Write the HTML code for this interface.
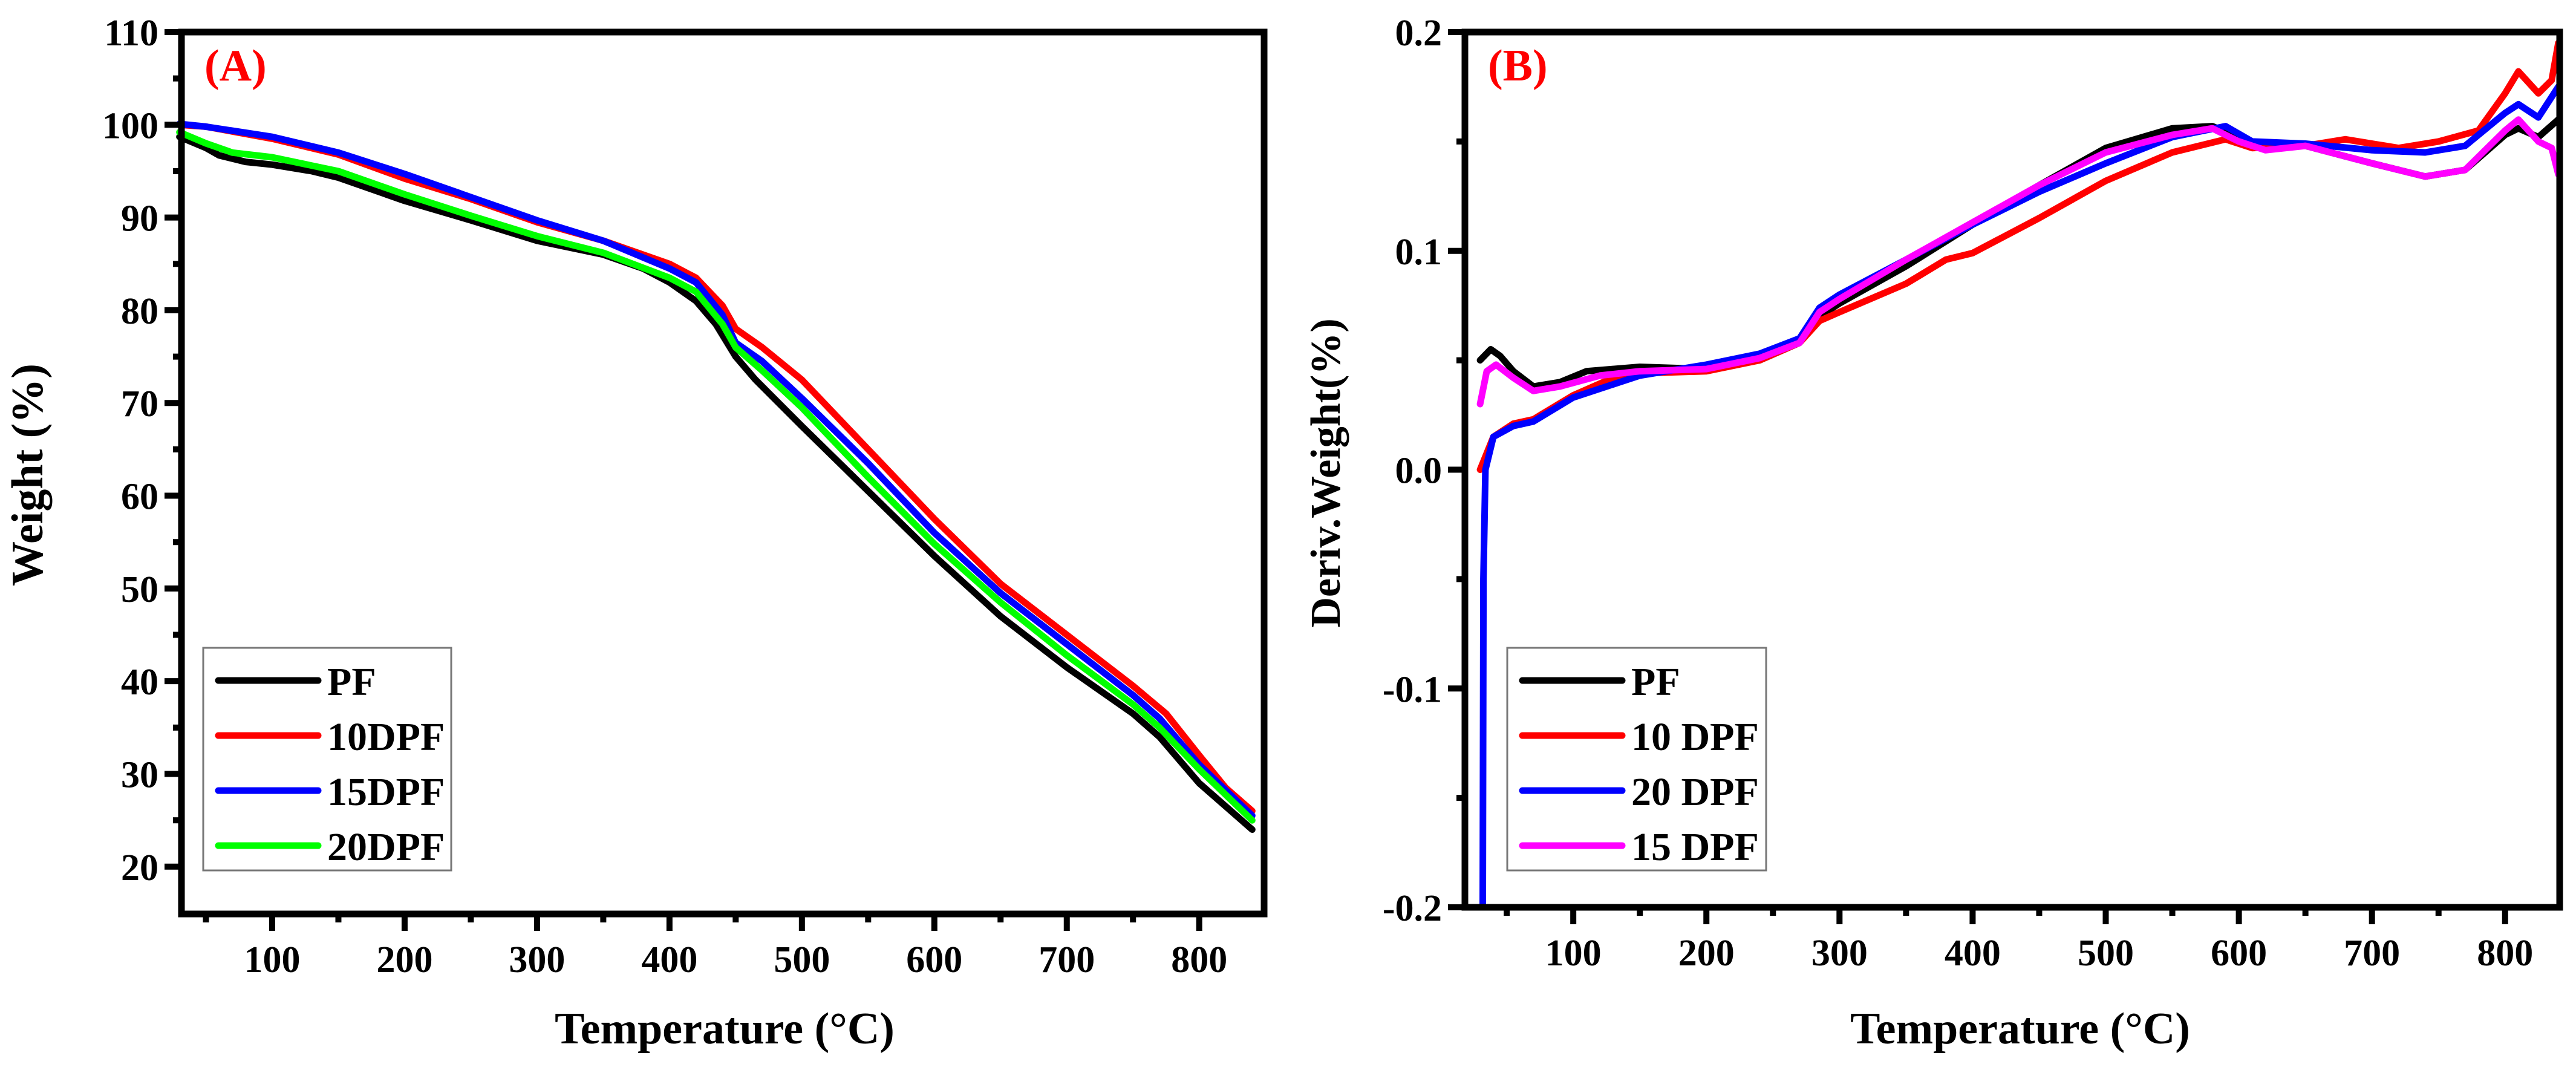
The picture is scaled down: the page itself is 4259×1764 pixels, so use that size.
<!DOCTYPE html>
<html><head><meta charset="utf-8"><style>
html,body{margin:0;padding:0;background:#fff}
svg{display:block}
text{font-family:"Liberation Serif",serif;font-weight:bold;fill:#000}
</style></head><body>
<svg id="s" width="4259" height="1764" viewBox="0 0 4259 1764" xmlns="http://www.w3.org/2000/svg"></svg>
<script>
// Panel A data (Temperature °C -> Weight %)
const aPF_x=[30,50,60,80,100,130,150,200,250,300,350,380,400,420,435,450,465,500,550,600,650,700,750,770,800,840];
const aPF_y=[98.7,97.5,96.7,96.0,95.7,95.0,94.3,91.8,89.7,87.5,86.0,84.5,83.0,81.0,78.5,75,72.5,67.5,60.5,53.5,47,41.5,36.5,34,29,24];
const a10_x=[30,50,100,150,200,250,300,350,400,420,440,450,470,500,550,600,650,700,750,775,800,820,840];
const a10_y=[100,99.8,98.5,96.8,94.2,92,89.5,87.5,85,83.5,80.5,78,76,72.5,65,57.5,50.5,45,39.5,36.5,32,28.5,26];
const a15_x=[30,50,100,150,200,250,300,350,400,420,440,450,470,500,550,600,650,700,750,770,800,840];
const a15_y=[100.1,99.8,98.7,97,94.7,92.2,89.7,87.5,84.5,83,79.5,76.5,74.5,70.5,63.5,56,49.5,44,38.5,36,31,25.5];
const a20_x=[30,50,70,100,150,200,250,300,350,400,420,440,450,470,500,550,600,650,700,750,770,800,840];
const a20_y=[99.2,98,97,96.5,95,92.5,90.2,88,86.2,83.5,82,78.5,76,73.5,69.5,62,54.8,48.5,42.8,37.5,35,30.5,25];
const aYTicks=[20,30,40,50,60,70,80,90,100,110];
const xTicks=[100,200,300,400,500,600,700,800];
const aLegend=["PF","10DPF","15DPF","20DPF"];
// Panel B data (Temperature °C -> Deriv. Weight %)
const bPF_x=[30,38,45,55,70,90,110,150,200,240,270,285,300,350,400,450,500,550,580,600,620,650,700,740,770,800,810,825,840];
const bPF_y=[0.05,0.055,0.052,0.045,0.038,0.04,0.045,0.047,0.046,0.05,0.058,0.07,0.076,0.093,0.112,0.13,0.147,0.156,0.157,0.152,0.148,0.148,0.14,0.134,0.137,0.153,0.156,0.152,0.16];
const b10_x=[30,40,55,70,100,130,150,200,240,270,285,300,350,380,400,450,500,550,590,610,650,680,720,750,780,800,810,825,835,840];
const b10_y=[0.0,0.015,0.021,0.023,0.034,0.042,0.044,0.045,0.05,0.058,0.068,0.072,0.085,0.096,0.099,0.115,0.132,0.145,0.151,0.147,0.148,0.151,0.147,0.15,0.155,0.172,0.182,0.172,0.178,0.195];
const b20_x=[32,32.5,34,40,55,70,100,150,200,240,270,285,300,350,400,450,500,550,590,610,650,700,740,770,800,810,825,840];
const b20_y=[-0.2,-0.05,0.0,0.015,0.02,0.022,0.033,0.043,0.048,0.053,0.06,0.074,0.08,0.096,0.112,0.127,0.14,0.152,0.157,0.15,0.149,0.146,0.145,0.148,0.163,0.167,0.161,0.175];
const b15_x=[30,35,42,55,70,90,120,150,200,240,270,285,300,350,400,450,500,550,580,600,620,650,700,740,770,800,810,825,835,840];
const b15_y=[0.03,0.045,0.048,0.042,0.036,0.038,0.043,0.045,0.046,0.051,0.058,0.072,0.078,0.096,0.113,0.13,0.145,0.153,0.156,0.15,0.146,0.148,0.14,0.134,0.137,0.155,0.16,0.15,0.147,0.135];
const bYTicks=[-0.2,-0.1,0.0,0.1,0.2];
const bYLabels=["-0.2","-0.1","0.0","0.1","0.2"];
const bLegend=["PF","10 DPF","20 DPF","15 DPF"];

const NS="http://www.w3.org/2000/svg";
const svg=document.getElementById('s');
function mk(tag,attrs,parent){const e=document.createElementNS(NS,tag);for(const k in attrs)e.setAttribute(k,attrs[k]);(parent||svg).appendChild(e);return e;}

function panel(cfg){
  const g=mk('g',{});
  
  
  const sx=v=>cfg.L+(v-cfg.x0)/(cfg.x1-cfg.x0)*(cfg.R-cfg.L);
  const sy=v=>cfg.B-(v-cfg.y0)/(cfg.y1-cfg.y0)*(cfg.B-cfg.T);
  cfg.series.forEach(s=>{
    const d=s.x.map((v,i)=>(i?'L':'M')+sx(v).toFixed(1)+','+sy(s.y[i]).toFixed(1)).join('');
    const p=mk('path',{d:d,fill:'none',stroke:s.c,'stroke-width':11,'stroke-linejoin':'round','stroke-linecap':'round'},g);
    
    
  });
  const f=mk('rect',{x:cfg.L,y:cfg.T,width:cfg.R-cfg.L,height:cfg.B-cfg.T,fill:'none',stroke:'#000','stroke-width':11},g);
  
  
  xTicks.forEach(t=>{
    const x=sx(t);
    const l=mk('line',{x1:x,x2:x,y1:cfg.B,y2:cfg.B+28,stroke:'#000','stroke-width':10},g);
    
    
    const tx=mk('text',{x:x,y:cfg.B+96,'font-size':62,'text-anchor':'middle'},g);
    tx.textContent=t;
    
    
    const m=t-50;
    if(m>cfg.x0){const ml=mk('line',{x1:sx(m),x2:sx(m),y1:cfg.B,y2:cfg.B+14,stroke:'#000','stroke-width':10},g);
      
      }
  });
  cfg.yTicks.forEach((t,i)=>{
    const y=sy(t);
    const l=mk('line',{x1:cfg.L-28,x2:cfg.L,y1:y,y2:y,stroke:'#000','stroke-width':10},g);
    
    
    const tx=mk('text',{x:cfg.L-38,y:y+22,'font-size':62,'text-anchor':'end'},g);
    tx.textContent=cfg.yLabels[i];
    
    
    if(i<cfg.yTicks.length-1){const mv=(t+cfg.yTicks[i+1])/2;
      const ml=mk('line',{x1:cfg.L-14,x2:cfg.L,y1:sy(mv),y2:sy(mv),stroke:'#000','stroke-width':10},g);
      
      }
  });
  const xt=mk('text',{x:cfg.xtX,y:1725,'font-size':74,'text-anchor':'middle'},g);
  xt.textContent='Temperature (°C)';
  
  
  const yt=mk('text',{x:0,y:0,'font-size':cfg.ytSize,'text-anchor':'middle',transform:'translate('+cfg.ytX+','+cfg.ytY+') rotate(-90)'},g);
  yt.textContent=cfg.yTitle;
  
  
  const pl=mk('text',{x:cfg.L+38,y:cfg.T+80,'font-size':74,style:'fill:#f00'},g);
  pl.textContent=cfg.label;
  
  
  const lg=mk('g',{},g);
  
  
  mk('rect',{x:cfg.lgX,y:1071,width:cfg.lgW,height:368,fill:'#fff',stroke:'#777','stroke-width':3},lg);
  const ys=[1125,1216,1307,1398];
  cfg.series.forEach((s,i)=>{
    const e=mk('g',{},lg);
    
    
    mk('line',{x1:cfg.lgX+25,x2:cfg.lgX+190,y1:ys[i],y2:ys[i],stroke:s.c,'stroke-width':11,'stroke-linecap':'round'},e);
    const t=mk('text',{x:cfg.lgX+205,y:ys[i]+24,'font-size':66},e);
    t.textContent=cfg.legend[i];
  });
}

panel({name:'panel-a-tga',L:300,R:2090,T:53,B:1511,x0:31.5,x1:849,y0:14.9,y1:110,
  yTicks:aYTicks,yLabels:aYTicks.map(String),label:'(A)',legend:aLegend,
  yTitle:'Weight (%)',ytX:70,ytY:785,ytSize:74,xtX:1198,lgX:336,lgW:410,
  series:[{id:'pf-line',x:aPF_x,y:aPF_y,c:'#000'},{id:'10dpf-line',x:a10_x,y:a10_y,c:'#f00'},
          {id:'15dpf-line',x:a15_x,y:a15_y,c:'#00f'},{id:'20dpf-line',x:a20_x,y:a20_y,c:'#0f0'}]});
panel({name:'panel-b-dtg',L:2422,R:4232,T:53,B:1500,x0:18.6,x1:841,y0:-0.2,y1:0.2,
  yTicks:bYTicks,yLabels:bYLabels,label:'(B)',legend:bLegend,
  yTitle:'Deriv.Weight(%)',ytX:2215,ytY:782,ytSize:70,xtX:3340,lgX:2492,lgW:428,
  series:[{id:'pf-line',x:bPF_x,y:bPF_y,c:'#000'},{id:'10dpf-line',x:b10_x,y:b10_y,c:'#f00'},
          {id:'20dpf-line',x:b20_x,y:b20_y,c:'#00f'},{id:'15dpf-line',x:b15_x,y:b15_y,c:'#f0f'}]});
</script>
</body></html>
